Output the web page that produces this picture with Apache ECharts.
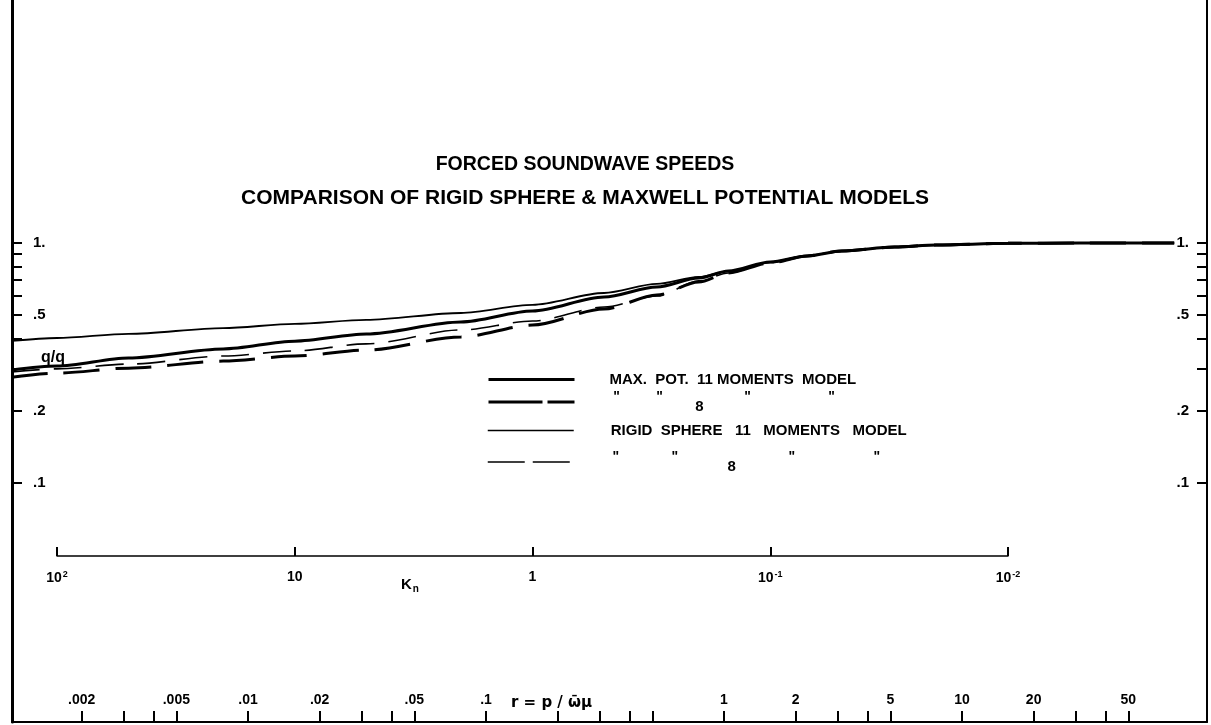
<!DOCTYPE html>
<html><head><meta charset="utf-8">
<script src="https://cdn.jsdelivr.net/npm/echarts@6/dist/echarts.min.js"></script>
<style>html,body{margin:0;padding:0;background:#fff}#c{width:1211px;height:725px}</style>
</head><body><div id="c"></div>
<script>
// ---- data (Knudsen number, a/a0 ratio) ----
const knValues  = [155, 100, 50, 20, 10, 5, 2, 1, 0.5, 0.3, 0.2, 0.15, 0.1, 0.07, 0.05, 0.03, 0.02, 0.01, 0.005, 0.002];
const maxPot11  = [0.296,0.307,0.332,0.362,0.390,0.418,0.469,0.521,0.596,0.656,0.715,0.764,0.833,0.883,0.926,0.962,0.981,0.997,1.0,1.0];
const maxPot8   = [0.276,0.287,0.301,0.322,0.338,0.358,0.406,0.455,0.531,0.607,0.688,0.750,0.826,0.883,0.926,0.962,0.981,0.997,1.0,1.0];
const rigid11   = [0.391,0.402,0.418,0.442,0.460,0.478,0.511,0.552,0.619,0.675,0.722,0.764,0.833,0.883,0.926,0.962,0.981,0.997,1.0,1.0];
const rigid8    = [0.290,0.299,0.313,0.338,0.355,0.380,0.434,0.473,0.541,0.601,0.695,0.750,0.830,0.883,0.926,0.962,0.981,0.997,1.0,1.0];

const seriesNames = ['MAX. POT. 11 MOMENTS MODEL', 'MAX. POT. 8 MOMENTS MODEL', 'RIGID SPHERE 11 MOMENTS MODEL', 'RIGID SPHERE 8 MOMENTS MODEL'];

// ---- tick values / labels ----
const yTickValues  = [1, 0.9, 0.8, 0.7, 0.6, 0.5, 0.4, 0.3, 0.2, 0.1];
const yLabelValues = [1, 0.5, 0.2, 0.1];
const yLabelTexts  = ['1.', '.5', '.2', '.1'];
const knTickValues = [100, 10, 1, 0.1, 0.01];
const knTickTexts  = ['10{sup|2}', '10', '1', '10{sup|-1}', '10{sup|-2}'];
const rTickValues  = [0.002,0.003,0.004,0.005,0.01,0.02,0.03,0.04,0.05,0.1,0.2,0.3,0.4,0.5,1,2,3,4,5,10,20,30,40,50];
const rLabelValues = [0.002,0.005,0.01,0.02,0.05,0.1,1,2,5,10,20,50];
const rLabelTexts  = ['.002','.005','.01','.02','.05','.1','1','2','5','10','20','50'];

// ---- layout (pixels) ----
const W = 1211, H = 725;
const gL = 12, gR = 1207, gT = 0, gB = 722;
const knAxisL = 57, knAxisR = 1008, knAxisY = 556;
const knDec = (knAxisR - knAxisL) / 4;         // px per decade of Kn
const yOne = 243, yDec = 240;                   // y pixel of 1.0, px per decade
const rOneX = 724, rDec = 238;                  // x pixel of r=1, px per decade

const knMaxMain = 100 * Math.pow(10, (knAxisL - gL) / knDec);
const knMinMain = 100 * Math.pow(10, -(gR - knAxisL) / knDec);
const yMax = Math.pow(10, (yOne - gT) / yDec);
const yMin = Math.pow(10, -(gB - yOne) / yDec);
const rMin = Math.pow(10, -(rOneX - gL) / rDec);
const rMax = Math.pow(10, (gR - rOneX) / rDec);

const FONT = 'Liberation Sans';
function lookup(v, vals, texts) {
  for (let i = 0; i < vals.length; i++) {
    if (Math.abs(Math.log10(v / vals[i])) < 1e-6) return texts[i];
  }
  return '';
}

function mk(data) { return knValues.map((k, i) => [k, data[i]]); }

const chart = echarts.init(document.getElementById('c'), null, {renderer: 'canvas'});

const legendBase = {
  orient: 'vertical', left: 487, itemWidth: 86, itemHeight: 14, padding: 0,
  itemGap: 0, selectedMode: false,
  itemStyle: {opacity: 0},
  textStyle: {color: '#000', fontFamily: FONT, fontWeight: 'bold', fontSize: 15}
};

function dittoRich(w) {
  const d = {align: 'center', verticalAlign: 'top', fontFamily: FONT, fontWeight: 'bold', fontSize: 14, color: '#000'};
  return {
    g: {width: w[0]},
    d1: Object.assign({width: w[1]}, d),
    d2: Object.assign({width: w[2]}, d),
    e:  {width: w[3], align: 'center', padding: [9, 0, 0, 0], fontFamily: FONT, fontWeight: 'bold', fontSize: 15, color: '#000'},
    d3: Object.assign({width: w[4]}, d),
    d4: Object.assign({width: w[5]}, d)
  };
}
const dittoFmt = () => '{g|}{d1|"}{d2|"}{e|8}{d3|"}{d4|"}';

const option = {
  backgroundColor: '#fff',
  animation: false,
  title: [
    {text: '{a|FORCED SOUNDWAVE SPEEDS}\n{b|COMPARISON OF RIGID SPHERE & MAXWELL POTENTIAL MODELS}',
     left: 580, top: 144, textAlign: 'center',
     textStyle: {rich: {
       a: {color: '#000', fontFamily: FONT, fontWeight: 'bold', fontSize: 19.5, lineHeight: 32},
       b: {color: '#000', fontFamily: FONT, fontWeight: 'bold', fontSize: 21, lineHeight: 34}}}},
    {text: 'q/q', left: 36, top: 345,
     textStyle: {color: '#000', fontFamily: FONT, fontWeight: 'bold', fontSize: 16}},
    {text: '{k|K}{n|n}', left: 396, top: 570,
     textStyle: {rich: {k: {fontFamily: FONT, fontWeight: 'bold', fontSize: 15, color: '#000'},
                        n: {fontFamily: FONT, fontWeight: 'bold', fontSize: 10, color: '#000', padding: [9, 0, 0, 1]}}}},
    {text: 'r = p / ω\u0304μ', left: 506, top: 691,
     textStyle: {color: '#000', fontFamily: 'DejaVu Sans', fontWeight: 'bold', fontSize: 15}}
  ],
  legend: [
    Object.assign({}, legendBase, {top: 372, data: [seriesNames[0]],
      lineStyle: {width: 3, type: 'solid'},
      formatter: () => '{g|}{t|MAX.  POT.  11 MOMENTS  MODEL}',
      textStyle: Object.assign({}, legendBase.textStyle, {rich: {g: {width: 30}, t: {fontFamily: FONT, fontWeight: 'bold', fontSize: 15, color: '#000'}}})}),
    Object.assign({}, legendBase, {top: 390, data: [seriesNames[1]],
      lineStyle: {width: 3, type: [54, 5]},
      formatter: dittoFmt,
      textStyle: Object.assign({}, legendBase.textStyle, {rich: dittoRich([25, 24, 62, 18, 78, 90])})}),
    Object.assign({}, legendBase, {top: 423, data: [seriesNames[2]],
      lineStyle: {width: 1.5, type: 'solid'},
      formatter: () => '{g|}{t|RIGID  SPHERE   11   MOMENTS   MODEL}',
      textStyle: Object.assign({}, legendBase.textStyle, {rich: {g: {width: 32}, t: {fontFamily: FONT, fontWeight: 'bold', fontSize: 15, color: '#000'}}})}),
    Object.assign({}, legendBase, {top: 450, data: [seriesNames[3]],
      lineStyle: {width: 1.5, type: [37, 8]},
      formatter: dittoFmt,
      textStyle: Object.assign({}, legendBase.textStyle, {rich: dittoRich([25, 24, 94, 20, 100, 70])})})
  ],
  grid: [
    {left: gL, right: W - gR, top: gT, bottom: H - gB},
    {left: knAxisL, right: W - knAxisR, top: knAxisY - 1, height: 1}
  ],
  xAxis: [
    {type: 'log', gridIndex: 0, inverse: true, min: knMinMain, max: knMaxMain, show: false},
    {type: 'log', gridIndex: 0, position: 'bottom', min: rMin, max: rMax,
     axisLine: {onZero: false, lineStyle: {color: '#000', width: 2}},
     axisTick: {inside: true, length: 11, lineStyle: {color: '#000', width: 2}, customValues: rTickValues},
     axisLabel: {inside: true, margin: 15, color: '#000', fontFamily: FONT, fontWeight: 'bold', fontSize: 14,
                 customValues: rLabelValues, formatter: v => lookup(v, rLabelValues, rLabelTexts)},
     splitLine: {show: false}, minorTick: {show: false}},
    {type: 'log', gridIndex: 1, inverse: true, min: 0.01, max: 100, position: 'bottom',
     axisLine: {onZero: false, lineStyle: {color: '#000', width: 1.5}},
     axisTick: {inside: true, length: 9, lineStyle: {color: '#000', width: 2}, customValues: knTickValues},
     axisLabel: {margin: 14, color: '#000', fontFamily: FONT, fontWeight: 'bold', fontSize: 14,
                 customValues: knTickValues, formatter: v => lookup(v, knTickValues, knTickTexts),
                 rich: {sup: {fontSize: 9, fontWeight: 'bold', fontFamily: FONT, color: '#000', verticalAlign: 'top', padding: [0, 0, 7, 1]}}},
     splitLine: {show: false}}
  ],
  yAxis: [
    {type: 'log', gridIndex: 0, position: 'left', min: yMin, max: yMax,
     axisLine: {show: true, onZero: false, lineStyle: {color: '#000', width: 3}},
     axisTick: {show: true, inside: true, length: 10, lineStyle: {color: '#000', width: 2}, customValues: yTickValues},
     axisLabel: {inside: true, margin: 21, color: '#000', fontFamily: FONT, fontWeight: 'bold', fontSize: 15,
                 customValues: yLabelValues, formatter: v => lookup(v, yLabelValues, yLabelTexts)},
     splitLine: {show: false}},
    {type: 'log', gridIndex: 0, position: 'right', min: yMin, max: yMax,
     axisLine: {show: true, onZero: false, lineStyle: {color: '#000', width: 2}},
     axisTick: {show: true, inside: true, length: 10, lineStyle: {color: '#000', width: 2}, customValues: yTickValues},
     axisLabel: {inside: true, margin: 18, color: '#000', fontFamily: FONT, fontWeight: 'bold', fontSize: 15,
                 customValues: yLabelValues, formatter: v => lookup(v, yLabelValues, yLabelTexts)},
     splitLine: {show: false}},
    {type: 'value', gridIndex: 1, show: false}
  ],
  series: [
    {name: seriesNames[0], type: 'line', xAxisIndex: 0, yAxisIndex: 0, data: mk(maxPot11), symbol: 'none',
     smooth: 0.3, smoothMonotone: 'x', lineStyle: {color: '#000', width: 3}, z: 3},
    {name: seriesNames[1], type: 'line', xAxisIndex: 0, yAxisIndex: 0, data: mk(maxPot8), symbol: 'none',
     smooth: 0.3, smoothMonotone: 'x', lineStyle: {color: '#000', width: 3, type: [36, 16]}, z: 2},
    {name: seriesNames[2], type: 'line', xAxisIndex: 0, yAxisIndex: 0, data: mk(rigid11), symbol: 'none',
     smooth: 0.3, smoothMonotone: 'x', lineStyle: {color: '#000', width: 1.8}, z: 2},
    {name: seriesNames[3], type: 'line', xAxisIndex: 0, yAxisIndex: 0, data: mk(rigid8), symbol: 'none',
     smooth: 0.3, smoothMonotone: 'x', lineStyle: {color: '#000', width: 1.6, type: [28, 14]}, z: 2}
  ]
};
chart.setOption(option);
</script></body></html>
